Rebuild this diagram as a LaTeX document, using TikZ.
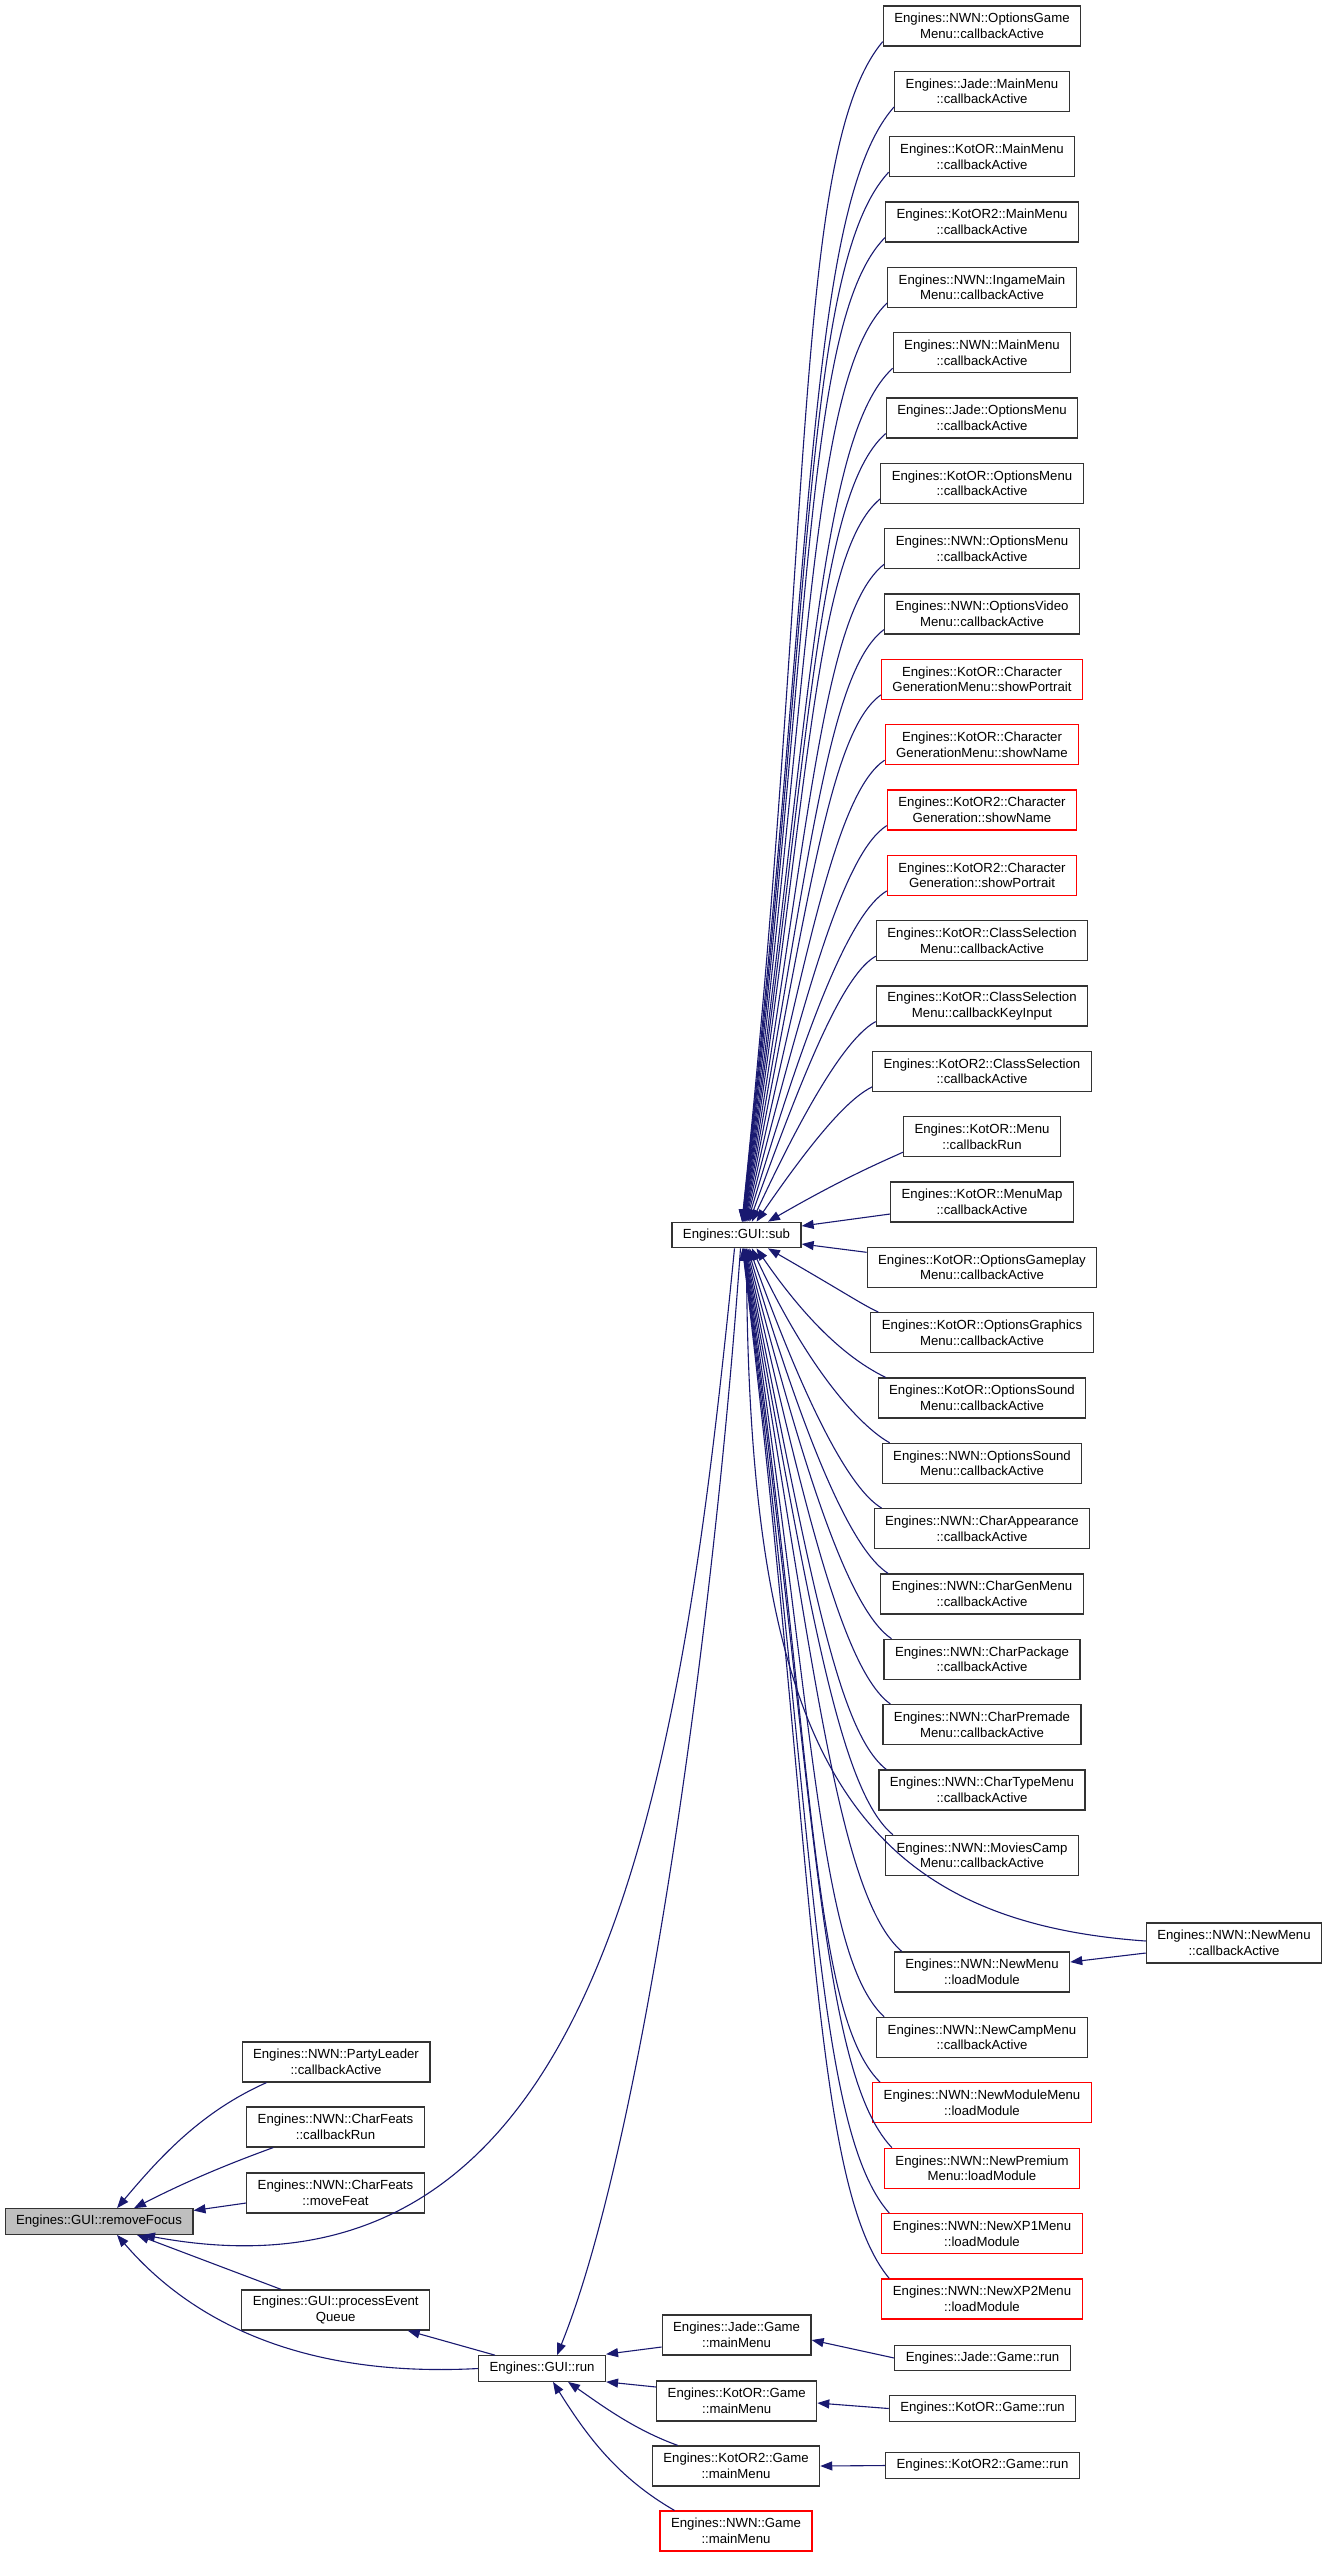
\documentclass[tikz,border=0pt]{standalone}
\usepackage{fontspec}
\setmainfont{Liberation Sans}
\usetikzlibrary{arrows.meta}
\definecolor{mb}{HTML}{191970}
\definecolor{bordergray}{HTML}{333333}
\begin{document}
\begin{tikzpicture}[x=1pt,y=1pt,
  box/.style={draw=bordergray, line width=1.2pt, fill=white, font=\fontsize{13.2}{15.6}\selectfont, align=center, inner xsep=11pt, inner ysep=0pt, minimum height=40pt},
  one/.style={minimum height=25.5pt},
  redbox/.style={box, draw=red},
  rel/.style={draw=mb, line width=1.1pt, {Triangle[length=12pt,width=9pt]}-}
]
\useasboundingbox (0,0) rectangle (1328,-2557);

% right column
\node[box] (r1) at (982,-26) {Engines::NWN::OptionsGame\\Menu::callbackActive};
\node[box] (r2) at (982,-91.3) {Engines::Jade::MainMenu\\::callbackActive};
\node[box] (r3) at (982,-156.7) {Engines::KotOR::MainMenu\\::callbackActive};
\node[box] (r4) at (982,-222) {Engines::KotOR2::MainMenu\\::callbackActive};
\node[box] (r5) at (982,-287.3) {Engines::NWN::IngameMain\\Menu::callbackActive};
\node[box] (r6) at (982,-352.7) {Engines::NWN::MainMenu\\::callbackActive};
\node[box] (r7) at (982,-418) {Engines::Jade::OptionsMenu\\::callbackActive};
\node[box] (r8) at (982,-483.3) {Engines::KotOR::OptionsMenu\\::callbackActive};
\node[box] (r9) at (982,-548.6) {Engines::NWN::OptionsMenu\\::callbackActive};
\node[box] (r10) at (982,-614) {Engines::NWN::OptionsVideo\\Menu::callbackActive};
\node[redbox] (r11) at (982,-679.3) {Engines::KotOR::Character\\GenerationMenu::showPortrait};
\node[redbox] (r12) at (982,-744.6) {Engines::KotOR::Character\\GenerationMenu::showName};
\node[redbox] (r13) at (982,-810) {Engines::KotOR2::Character\\Generation::showName};
\node[redbox] (r14) at (982,-875.3) {Engines::KotOR2::Character\\Generation::showPortrait};
\node[box] (r15) at (982,-940.6) {Engines::KotOR::ClassSelection\\Menu::callbackActive};
\node[box] (r16) at (982,-1006) {Engines::KotOR::ClassSelection\\Menu::callbackKeyInput};
\node[box] (r17) at (982,-1071.3) {Engines::KotOR2::ClassSelection\\::callbackActive};
\node[box] (r18) at (982,-1136.6) {Engines::KotOR::Menu\\::callbackRun};
\node[box] (r19) at (982,-1202) {Engines::KotOR::MenuMap\\::callbackActive};
\node[box] (r20) at (982,-1267.3) {Engines::KotOR::OptionsGameplay\\Menu::callbackActive};
\node[box] (r21) at (982,-1332.6) {Engines::KotOR::OptionsGraphics\\Menu::callbackActive};
\node[box] (r22) at (982,-1398) {Engines::KotOR::OptionsSound\\Menu::callbackActive};
\node[box] (r23) at (982,-1463.3) {Engines::NWN::OptionsSound\\Menu::callbackActive};
\node[box] (r24) at (982,-1528.6) {Engines::NWN::CharAppearance\\::callbackActive};
\node[box] (r25) at (982,-1594) {Engines::NWN::CharGenMenu\\::callbackActive};
\node[box] (r26) at (982,-1659.3) {Engines::NWN::CharPackage\\::callbackActive};
\node[box] (r27) at (982,-1724.6) {Engines::NWN::CharPremade\\Menu::callbackActive};
\node[box] (r28) at (982,-1790) {Engines::NWN::CharTypeMenu\\::callbackActive};
\node[box] (r29) at (982,-1855.3) {Engines::NWN::MoviesCamp\\Menu::callbackActive};
\node[box] (r30) at (982,-1972) {Engines::NWN::NewMenu\\::loadModule};
\node[box] (r31) at (982,-2037.4) {Engines::NWN::NewCampMenu\\::callbackActive};
\node[redbox] (r32) at (982,-2102.8) {Engines::NWN::NewModuleMenu\\::loadModule};
\node[redbox] (r33) at (982,-2168.2) {Engines::NWN::NewPremium\\Menu::loadModule};
\node[redbox] (r34) at (982,-2233.6) {Engines::NWN::NewXP1Menu\\::loadModule};
\node[redbox] (r35) at (982,-2299) {Engines::NWN::NewXP2Menu\\::loadModule};
\node[box] (nmca) at (1234,-1943) {Engines::NWN::NewMenu\\::callbackActive};

% central and left
\node[box,one] (sub) at (736.5,-1235) {Engines::GUI::sub};
\node[box,one,fill=black!25] (rf) at (99,-2221.5) {Engines::GUI::removeFocus};
\node[box] (pl) at (336,-2062) {Engines::NWN::PartyLeader\\::callbackActive};
\node[box] (cr) at (335.5,-2127) {Engines::NWN::CharFeats\\::callbackRun};
\node[box] (mf) at (335.5,-2193) {Engines::NWN::CharFeats\\::moveFeat};
\node[box] (peq) at (335.7,-2310) {Engines::GUI::processEvent\\Queue};
\node[box,one] (run) at (542,-2368.5) {Engines::GUI::run};
\node[box] (jm) at (736.6,-2335) {Engines::Jade::Game\\::mainMenu};
\node[box] (km) at (736.7,-2401) {Engines::KotOR::Game\\::mainMenu};
\node[box] (k2m) at (736,-2466) {Engines::KotOR2::Game\\::mainMenu};
\node[redbox] (nm) at (736,-2531) {Engines::NWN::Game\\::mainMenu};
\node[box,one] (jr) at (982.5,-2358) {Engines::Jade::Game::run};
\node[box,one] (kr) at (982.5,-2408.5) {Engines::KotOR::Game::run};
\node[box,one] (k2r) at (982.5,-2465.5) {Engines::KotOR2::Game::run};

% edges sub <- upper rows
\foreach \k in {1,...,18}{
  \pgfmathsetmacro\mm{19-\k}
  \pgfmathsetmacro\dx{1.5+30/pow(\mm,0.7)}
  \pgfmathsetmacro\oa{90-60/pow(\mm,0.8)}
  \pgfmathsetmacro\ia{205+25*(\mm-1)/17}
  \pgfmathsetmacro\dy{(1222-(26+(\k-1)*65.33+15))/100}
  \pgfmathsetmacro\dd{100*veclen(1.4,\dy)}
  \pgfmathsetmacro\La{0.587*\dd}
  \pgfmathsetmacro\Lb{0.117*\dd}
  \draw[rel] ([xshift=\dx pt]sub.north) .. controls +(\oa:\La pt) and +(\ia:\Lb pt) .. ([yshift=5pt]r\k.south west);
}
\draw[rel] ([yshift=9pt]sub.east) -- ([yshift=-12pt]r19.west);
\draw[rel] ([yshift=-9pt]sub.east) -- ([yshift=15pt]r20.west);
\foreach \k/\yk in {21/1332.6,22/1398,23/1463.3,24/1528.6,25/1594,26/1659.3,27/1724.6,28/1790,29/1855.3,30/1972,31/2037.4,32/2102.8,33/2168.2,34/2233.6,35/2299}{
  \pgfmathsetmacro\mm{\k-20}
  \pgfmathsetmacro\dx{1.5+30/pow(\mm,0.7)}
  \pgfmathsetmacro\oa{-90+60/pow(\mm,0.8)}
  \pgfmathsetmacro\ia{155-25*(\mm-1)/14}
  \pgfmathsetmacro\dy{(\yk-20-1248)/100}
  \pgfmathsetmacro\dd{100*veclen(1.45,\dy)}
  \pgfmathsetmacro\La{0.587*\dd}
  \pgfmathsetmacro\Lb{0.117*\dd}
  \draw[rel] ([xshift=\dx pt]sub.south) .. controls +(\oa:\La pt) and +(\ia:\Lb pt) .. ([xshift=8pt]r\k.north west);
}
\draw[rel] ([xshift=10pt]sub.south) .. controls (748,-1750) and (850,-1920) .. ([yshift=2pt]nmca.west);
\draw[rel] ([yshift=10pt]r30.east) -- ([yshift=-10pt]nmca.west);

% removeFocus callers
\draw[rel] ([xshift=18pt]rf.north) .. controls +(50:70pt) and +(204:70pt) .. ([xshift=25pt]pl.south west);
\draw[rel] ([xshift=35pt]rf.north) .. controls +(27:55pt) and +(200:55pt) .. ([xshift=27pt]cr.south west);
\draw[rel] ([yshift=11pt]rf.east) -- ([yshift=-10pt]mf.west);
\draw[rel] ([xshift=44pt]rf.south) .. controls (600,-2320) and (680,-1800) .. ([xshift=-2pt]sub.south);
\draw[rel] ([xshift=38pt]rf.south) -- ([xshift=40pt]peq.north west);
\draw[rel] ([xshift=18pt]rf.south) .. controls (190,-2320) and (300,-2378) .. (run.west);
\draw[rel] ([xshift=72pt]peq.south) -- ([xshift=-47pt]run.north);
\draw[rel] ([xshift=15pt]run.north) .. controls (640,-2150) and (712,-1650) .. ([xshift=4pt]sub.south);

% run callers
\draw[rel] ([yshift=1pt]run.north east) -- ([yshift=-12pt]jm.west);
\draw[rel] (run.south east) -- ([yshift=14pt]km.west);
\draw[rel] ([xshift=26pt]run.south) .. controls +(-35:45pt) and +(160:45pt) .. ([xshift=26pt]k2m.north west);
\draw[rel] ([xshift=11pt]run.south) .. controls +(-58:65pt) and +(150:65pt) .. ([xshift=15pt]nm.north west);

% game run
\draw[rel] ([yshift=-5pt]jm.east) -- (jr.west);
\draw[rel] ([yshift=-2pt]km.east) -- (kr.west);
\draw[rel] (k2m.east) -- (k2r.west);
\end{tikzpicture}
\end{document}
